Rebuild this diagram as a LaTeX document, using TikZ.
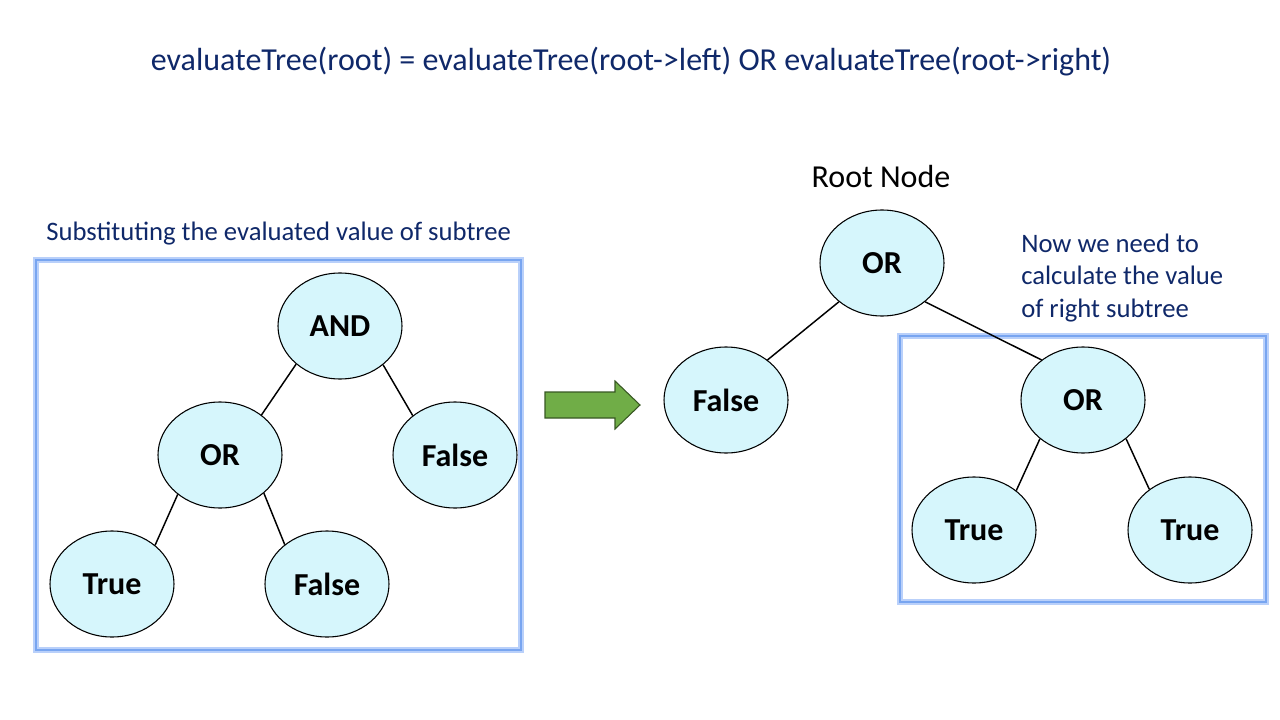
\documentclass[tikz,border=0pt]{standalone}
\usepackage{fontspec}
\setmainfont{Carlito}
\usepackage{xcolor}
\usetikzlibrary{calc,positioning,shapes.geometric}
\definecolor{navy}{RGB}{15,40,105}
\definecolor{nodecyan}{RGB}{214,246,252}
\definecolor{glowout}{RGB}{185,208,250}
\definecolor{glowin}{RGB}{120,165,240}
\definecolor{arrowgreen}{RGB}{112,173,71}
\definecolor{arrowedge}{RGB}{56,87,35}

\begin{document}
\begin{tikzpicture}[x=0.75pt,y=-0.75pt,
		tnode/.style={ellipse,draw,thick,fill=nodecyan,minimum width=93pt,minimum height=79.5pt,inner sep=0pt,font=\fontsize{24}{28}\selectfont\bfseries},
		bigtext/.style={inner sep=0pt,font=\fontsize{24}{29}\selectfont},
		midtext/.style={inner sep=0pt,font=\fontsize{20}{24.4}\selectfont,text=navy},
		subbox/.style={line width=5pt,draw=glowout},
		subline/.style={line width=2pt,draw=glowin},
		edge/.style={line width=1.1pt}]
			\useasboundingbox (0,0) rectangle (1280,720);
			\node[bigtext,text=navy] at (631,62) (title) {evaluateTree(root) = evaluateTree(root->left) OR evaluateTree(root->right)};
			% left picture
			\node[midtext,anchor=west] at (46,234) (subst) {Substituting the evaluated value of subtree};
			\draw[subbox] (36,260) rectangle (521,650);
			\draw[subline] (36,260) rectangle (521,650);
			\node[tnode] at (340,326) (and) {AND};
			\node[tnode] at (220,455) (orl) {OR};
			\node[tnode] at (455,455) (falser) {False};
			\node[tnode] at (112,584) (truel) {True};
			\node[tnode] at (327,584) (falsel) {False};
			\draw[edge] (and.221) -- (orl.44);
			\draw[edge] (and.318) -- (falser.137);
			\draw[edge] (orl.223) -- (truel.42);
			\draw[edge] (orl.319) -- (falsel.137);
			% arrow
			\draw[fill=arrowgreen,draw=arrowedge,thick] (545,392) -- (615,392) -- (615,381) -- (640,405) -- (615,429) -- (615,418) -- (545,418) -- cycle;
			% right picture
			\node[bigtext] at (881,177) (rootlbl) {Root Node};
			\node[midtext,anchor=west,align=left] at (1021,278) (note) {Now we need to\\calculate the value\\of right subtree};
			\draw[subbox] (900,336) rectangle (1266,602);
			\draw[subline] (900,336) rectangle (1266,602);
			\node[tnode] at (882,263) (root) {OR};
			\node[tnode] at (726,400) (rfalse) {False};
			\node[tnode] at (1083,400) (ror) {OR};
			\node[tnode] at (974,530) (rtruel) {True};
			\node[tnode] at (1190,530) (rtruer) {True};
			\draw[edge] (root.222) -- (rfalse.44);
			\draw[edge] (root.318) -- (ror.136);
			\draw[edge] (ror.222) -- (rtruel.43);
			\draw[edge] (ror.318) -- (rtruer.135);
		\end{tikzpicture}
\end{document}
